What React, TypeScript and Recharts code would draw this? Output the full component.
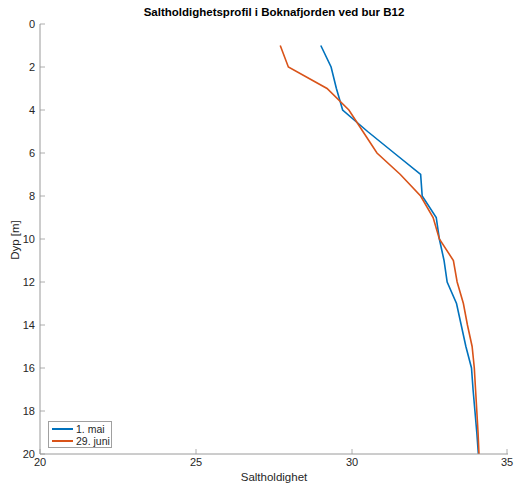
import React from 'react';
import { LineChart, Line, XAxis, YAxis } from 'recharts';

const depths = [1, 2, 3, 4, 5, 6, 7, 8, 9, 10, 11, 12, 13, 14, 15, 16, 17, 18, 19, 20];
const mai = [29.0, 29.33, 29.5, 29.7, 30.5, 31.35, 32.2, 32.25, 32.7, 32.8, 32.95, 33.05, 33.35, 33.5, 33.65, 33.83, 33.88, 33.94, 34.0, 34.05];
const juni = [27.7, 27.96, 29.2, 29.9, 30.35, 30.8, 31.55, 32.2, 32.6, 32.8, 33.25, 33.37, 33.57, 33.7, 33.85, 33.92, 33.96, 34.0, 34.04, 34.07];
const xTicks = [20, 25, 30, 35];
const yTicks = [0, 2, 4, 6, 8, 10, 12, 14, 16, 18, 20];
const seriesNames = ['1. mai', '29. juni'];
const colors = ['#0072BD', '#D95319'];

const data = depths.map((d, i) => ({ depth: d, mai: mai[i], juni: juni[i] }));

const FONT = 'Liberation Sans, Arial, Helvetica, sans-serif';
const TEXT = '#262626';
const AXIS = '#9a9a9a';

function YTick(props: any) {
  const { x, y, payload } = props;
  return (
    <g>
      <line x1={x + 5} x2={x + 10} y1={y} y2={y} stroke={AXIS} strokeWidth={0.8} />
      <text x={x} y={y} dy="0.35em" textAnchor="end" fontSize={11} fill={TEXT} fontFamily={FONT}>
        {payload.value}
      </text>
    </g>
  );
}

function XTick(props: any) {
  const { x, y, payload } = props;
  return (
    <g>
      <line x1={x} x2={x} y1={y - 4} y2={y - 9} stroke={AXIS} strokeWidth={0.8} />
      <text x={x} y={y} dy="0.75em" textAnchor="middle" fontSize={11} fill={TEXT} fontFamily={FONT}>
        {payload.value}
      </text>
    </g>
  );
}

function LegendBox() {
  return (
    <div style={{ position: 'absolute', left: 48, top: 421, border: '1px solid #a0a0a0', background: '#fff', width: 64, height: 27, fontFamily: FONT, fontSize: 10.5, color: TEXT, boxSizing: 'border-box', padding: '1px 0 0 3px' }}>
      {seriesNames.map((n, i) => (
        <div key={n} style={{ display: 'flex', alignItems: 'center', height: 12 }}>
          <span style={{ display: 'inline-block', width: 21, height: 2, background: colors[i], marginRight: 3 }} />
          <span>{n}</span>
        </div>
      ))}
    </div>
  );
}

export default function App() {
  return (
    <div style={{ position: 'absolute', left: 0, top: 0, width: 515, height: 490, background: '#fff' }}>
      <div style={{ position: 'absolute', left: 40, width: 468, top: 6, textAlign: 'center', fontFamily: FONT, fontWeight: 'bold', fontSize: 11.5, color: '#000' }}>
        Saltholdighetsprofil i Boknafjorden ved bur B12
      </div>
      <div style={{ position: 'absolute', left: 40, width: 468, top: 471, textAlign: 'center', fontFamily: FONT, fontSize: 11.5, color: TEXT }}>
        Saltholdighet
      </div>
      <div style={{ position: 'absolute', left: 15, top: 240, transform: 'translate(-50%, -50%) rotate(-90deg)', fontFamily: FONT, fontSize: 11.5, color: TEXT, whiteSpace: 'nowrap' }}>
        Dyp [m]
      </div>
      <LineChart width={515} height={490} data={data} layout="vertical" margin={{ top: 24, right: 7, bottom: 16, left: 10 }}>
        <XAxis
          type="number"
          domain={[20, 35]}
          ticks={xTicks}
          axisLine={{ stroke: AXIS }}
          tickLine={false}
          tickSize={0}
          tickMargin={4}
          tick={<XTick />}
          height={20}
          allowDataOverflow
        />
        <YAxis
          type="number"
          dataKey="depth"
          domain={[0, 20]}
          ticks={yTicks}
          axisLine={{ stroke: AXIS }}
          tickLine={false}
          tickSize={0}
          tickMargin={5}
          tick={<YTick />}
          width={30}
          allowDataOverflow
        />
        <Line dataKey="mai" name={seriesNames[0]} stroke={colors[0]} strokeWidth={1.6} dot={false} isAnimationActive={false} />
        <Line dataKey="juni" name={seriesNames[1]} stroke={colors[1]} strokeWidth={1.6} dot={false} isAnimationActive={false} />
      </LineChart>
      <LegendBox />
    </div>
  );
}
